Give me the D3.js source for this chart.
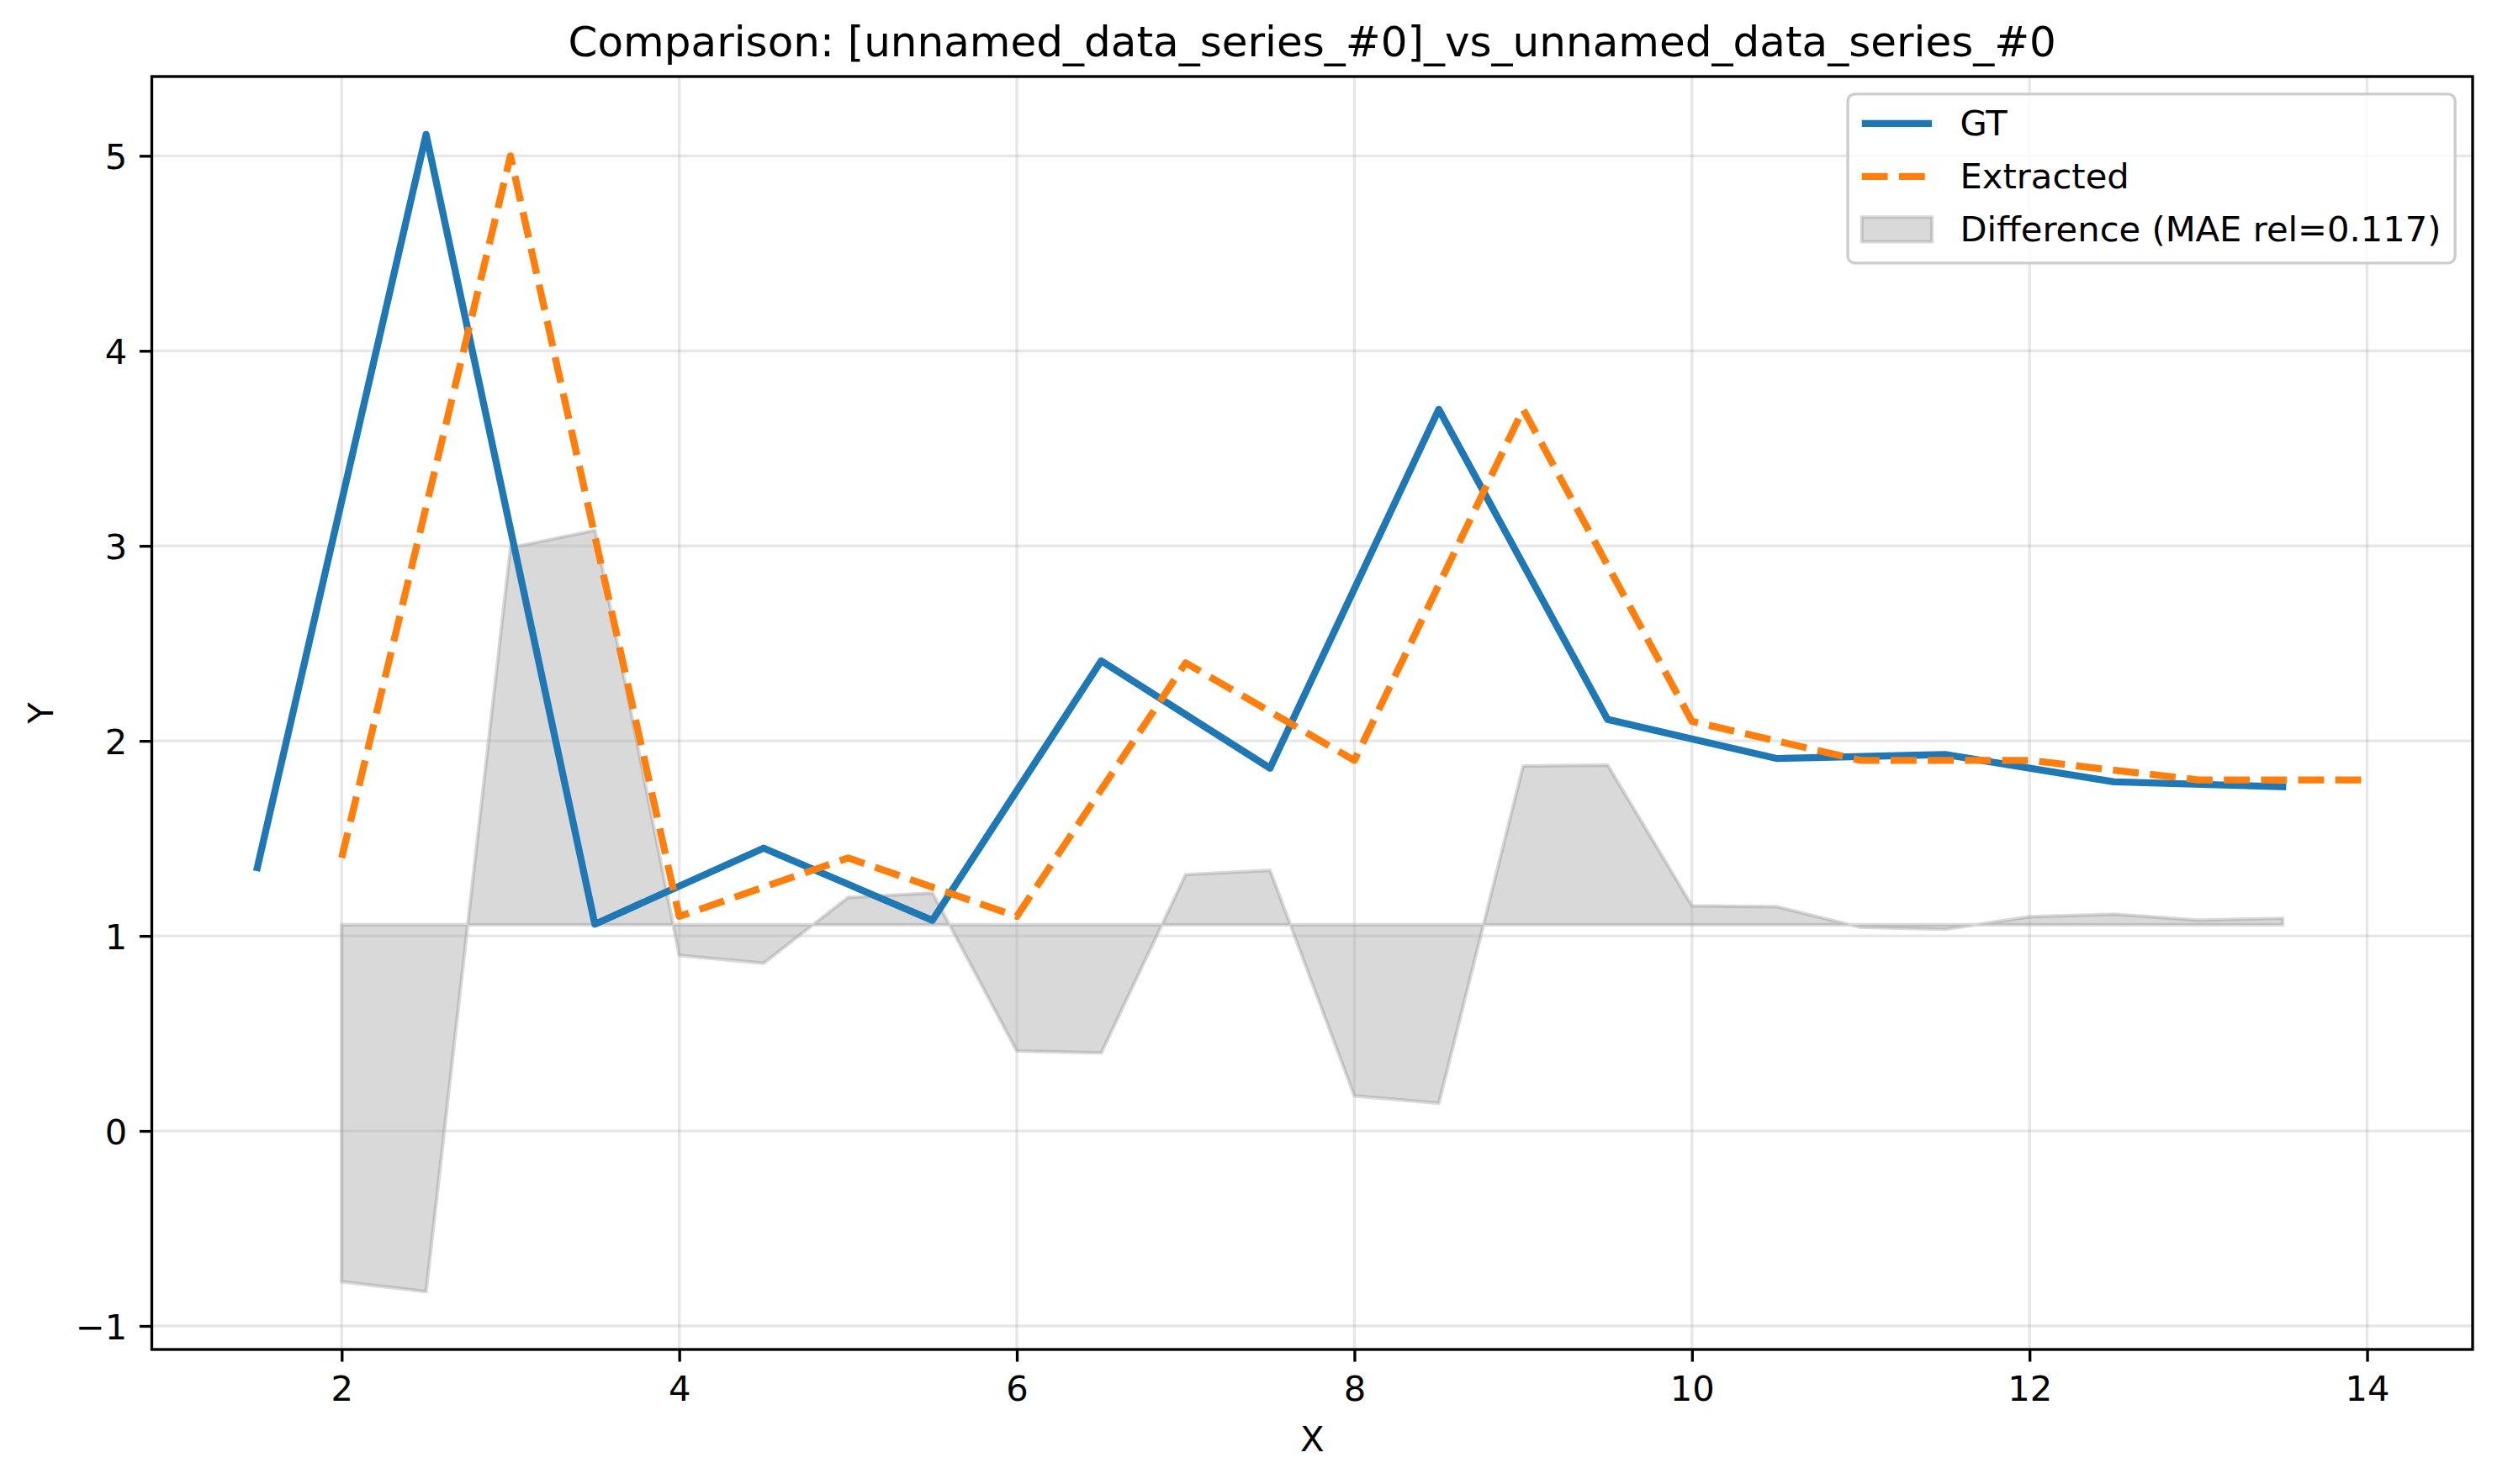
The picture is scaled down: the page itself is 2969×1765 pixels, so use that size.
<!DOCTYPE html>
<html>
<head>
<meta charset="utf-8">
<script src="https://cdn.jsdelivr.net/npm/d3@7"></script>
<style>
body { margin: 0; background: #fff; }
text { font-family: "DejaVu Sans", sans-serif; fill: #000; }
</style>
</head>
<body>
<div id="chart"></div>
<script>
// values
var gtX = [1.5, 2.5, 3.5, 4.5, 5.5, 6.5, 7.5, 8.5, 9.5, 10.5, 11.5, 12.5, 13.5];
var gtY = [1.35, 5.11, 1.06, 1.45, 1.08, 2.41, 1.86, 3.70, 2.11, 1.91, 1.93, 1.79, 1.765];

var extX = [2, 3, 4, 5, 6, 7, 8, 9, 10, 11, 12, 13, 14];
var extY = [1.40, 5.00, 1.10, 1.40, 1.10, 2.40, 1.90, 3.70, 2.10, 1.90, 1.90, 1.80, 1.80];

var diffX = [2, 2.5, 3, 3.5, 4, 4.5, 5, 5.5, 6, 6.5, 7, 7.5, 8, 8.5, 9, 9.5, 10, 10.5, 11, 11.5, 12, 12.5, 13, 13.5];
var diffY = [-0.773, -0.824, 2.99, 3.08, 0.90, 0.86, 1.197, 1.22, 0.41, 0.40, 1.314, 1.336, 0.18, 0.142,
             1.871, 1.876, 1.154, 1.150, 1.044, 1.034, 1.098, 1.111, 1.081, 1.09];
var diffBase = 1.057;

var xTicks = [2, 4, 6, 8, 10, 12, 14];
var yTicks = [-1, 0, 1, 2, 3, 4, 5];

var titleText = "Comparison: [unnamed_data_series_#0]_vs_unnamed_data_series_#0";
var legendLabels = ["GT", "Extracted", "Difference (MAE rel=0.117)"];

// chart setup (300 dpi, so 1pt = 300/72 px)
var pt = 300 / 72;
var svgWidth = 2969;
var svgHeight = 1765;

var margin = {
    top: 91,
    right: 29,
    bottom: 160,
    left: 180.5
};

var width = svgWidth - margin.left - margin.right;
var height = svgHeight - margin.top - margin.bottom;

var svg = d3.select("#chart")
    .append("svg")
    .attr("width", svgWidth)
    .attr("height", svgHeight);

svg.append("rect")
    .attr("width", svgWidth)
    .attr("height", svgHeight)
    .attr("fill", "#fff");

var chartGroup = svg.append("g")
    .attr("transform", `translate(${margin.left}, ${margin.top})`);

// autoscale with 5% margins, like matplotlib
function padded(vals) {
    var ext = d3.extent(vals);
    var m = (ext[1] - ext[0]) * 0.05;
    return [ext[0] - m, ext[1] + m];
}

var xScale = d3.scaleLinear()
    .domain(padded(gtX.concat(extX, diffX)))
    .range([0, width]);

var yScale = d3.scaleLinear()
    .domain(padded(gtY.concat(extY, diffY, [diffBase])))
    .range([height, 0]);

// difference band
var diffData = diffX.map((x, i) => ({x: x, y: diffY[i]}));
var area = d3.area()
    .x(d => xScale(d.x))
    .y0(yScale(diffBase))
    .y1(d => yScale(d.y));

chartGroup.append("path")
    .datum(diffData)
    .attr("d", d => area(d) )
    .attr("fill", "gray")
    .attr("fill-opacity", 0.3)
    .attr("stroke", "gray")
    .attr("stroke-opacity", 0.3)
    .attr("stroke-width", 1 * pt)
    .attr("stroke-linejoin", "round");

// grid
var gridGroup = chartGroup.append("g");
gridGroup.selectAll(".vgrid")
    .data(xTicks)
    .enter()
    .append("line")
    .attr("x1", d => xScale(d))
    .attr("x2", d => xScale(d))
    .attr("y1", 0)
    .attr("y2", height);
gridGroup.selectAll(".hgrid")
    .data(yTicks)
    .enter()
    .append("line")
    .attr("x1", 0)
    .attr("x2", width)
    .attr("y1", d => yScale(d))
    .attr("y2", d => yScale(d));
gridGroup.selectAll("line")
    .attr("stroke", "#b0b0b0")
    .attr("stroke-opacity", 0.3)
    .attr("stroke-width", 0.8 * pt);

// lines
var line = d3.line()
    .x(d => xScale(d.x))
    .y(d => yScale(d.y));

chartGroup.append("path")
    .datum(gtX.map((x, i) => ({x: x, y: gtY[i]})))
    .attr("d", line)
    .attr("fill", "none")
    .attr("stroke", "#1f77b4")
    .attr("stroke-width", 2 * pt)
    .attr("stroke-linejoin", "round")
    .attr("stroke-linecap", "square");

chartGroup.append("path")
    .datum(extX.map((x, i) => ({x: x, y: extY[i]})))
    .attr("d", line)
    .attr("fill", "none")
    .attr("stroke", "#ff7f0e")
    .attr("stroke-width", 2 * pt)
    .attr("stroke-linejoin", "round")
    .attr("stroke-dasharray", `${7.4 * pt} ${3.2 * pt}`);

// axes
var bottomAxis = d3.axisBottom(xScale)
    .tickValues(xTicks)
    .tickFormat(d3.format("d"))
    .tickSize(3.5 * pt)
    .tickSizeOuter(0)
    .tickPadding(3.5 * pt);
var leftAxis = d3.axisLeft(yScale)
    .tickValues(yTicks)
    .tickFormat(d3.format("d"))
    .tickSize(3.5 * pt)
    .tickSizeOuter(0)
    .tickPadding(3.5 * pt);

var xAxis = chartGroup.append("g")
    .attr("transform", `translate(0, ${height})`)
    .call(bottomAxis);
var yAxis = chartGroup.append("g")
    .call(leftAxis);

[xAxis, yAxis].forEach(function(ax) {
    ax.select(".domain").remove();
    ax.selectAll(".tick line")
        .attr("stroke", "#000")
        .attr("stroke-width", 0.8 * pt);
    ax.selectAll(".tick text")
        .attr("fill", "#000")
        .style("font-family", "DejaVu Sans")
        .style("font-size", (10 * pt) + "px");
});
xAxis.selectAll(".tick text").attr("dy", "0.76em");
yAxis.selectAll(".tick text").attr("dy", "0.36em");
xAxis.attr("font-size", null);
yAxis.attr("font-size", null);

// spines
chartGroup.append("rect")
    .attr("width", width)
    .attr("height", height)
    .attr("fill", "none")
    .attr("stroke", "#000")
    .attr("stroke-width", 0.8 * pt);

// labels
svg.append("text")
    .attr("x", margin.left + width / 2)
    .attr("y", 67)
    .attr("text-anchor", "middle")
    .style("font-size", (12 * pt) + "px")
    .text(titleText);

svg.append("text")
    .attr("x", margin.left + width / 2)
    .attr("y", 1726)
    .attr("text-anchor", "middle")
    .style("font-size", (10 * pt) + "px")
    .text("X");

svg.append("text")
    .attr("transform", `translate(63, ${margin.top + height / 2}) rotate(-90)`)
    .attr("text-anchor", "middle")
    .style("font-size", (10 * pt) + "px")
    .text("Y");

// legend
var fs = 10 * pt;
var legendGroup = svg.append("g");
var legendBox = legendGroup.append("rect");

var labelX = 2.0 * fs + 0.8 * fs + 0.4 * fs;
var texts = legendGroup.selectAll("text")
    .data(legendLabels)
    .enter()
    .append("text")
    .attr("x", labelX)
    .attr("y", (d, i) => 35 + i * 63)
    .attr("dy", "0.35em")
    .style("font-size", fs + "px")
    .text(d => d);

var maxW = d3.max(texts.nodes(), n => n.getComputedTextLength());
var boxW = labelX + maxW + 0.4 * fs;
var boxH = 201;
var legendRight = margin.left + width - 0.5 * fs;
legendGroup.attr("transform", `translate(${legendRight - boxW}, ${margin.top + 0.5 * fs})`);

legendBox
    .attr("width", boxW)
    .attr("height", boxH)
    .attr("rx", 0.2 * fs)
    .attr("fill", "#fff")
    .attr("fill-opacity", 0.8)
    .attr("stroke", "#cccccc")
    .attr("stroke-width", 0.8 * pt);

var hx0 = 0.4 * fs, hx1 = 0.4 * fs + 2.0 * fs;
legendGroup.append("line")
    .attr("x1", hx0).attr("x2", hx1)
    .attr("y1", 35).attr("y2", 35)
    .attr("stroke", "#1f77b4")
    .attr("stroke-width", 2 * pt);
legendGroup.append("line")
    .attr("x1", hx0).attr("x2", hx1)
    .attr("y1", 98).attr("y2", 98)
    .attr("stroke", "#ff7f0e")
    .attr("stroke-width", 2 * pt)
    .attr("stroke-dasharray", `${7.4 * pt} ${3.2 * pt}`);
legendGroup.append("rect")
    .attr("x", hx0)
    .attr("y", 161 - 0.35 * fs)
    .attr("width", 2.0 * fs)
    .attr("height", 0.7 * fs)
    .attr("fill", "gray")
    .attr("fill-opacity", 0.3)
    .attr("stroke", "gray")
    .attr("stroke-opacity", 0.3)
    .attr("stroke-width", 1 * pt);
</script>
</body>
</html>
